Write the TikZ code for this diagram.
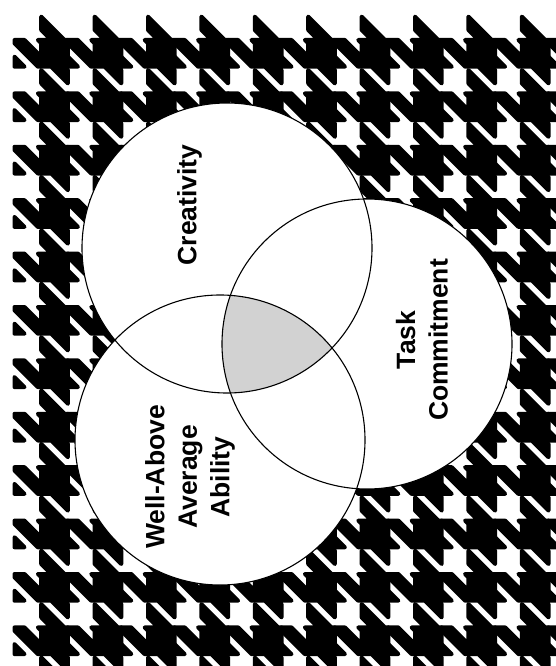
\documentclass[tikz,border=0pt]{standalone}
\usepackage{fontspec}
\setmainfont{Liberation Sans}
\begin{document}
\begin{tikzpicture}[x=1pt,y=-1pt,
  ring/.style={draw=black, line width=1.1pt},
  tooth/.style={fill=black, draw=black, line width=4pt, line join=round},
  lbl/.style={font=\bfseries\fontsize{26.5}{32.5}\selectfont, rotate=90, align=center, inner sep=0pt}]
\useasboundingbox (0,0) rectangle (556,666);
\fill[white] (0,0) rectangle (556,666);
% houndstooth background
\begin{scope}
\clip (0,0) rectangle (556,666);
\foreach \i in {0,...,10}{
 \foreach \j in {0,...,12}{
  \begin{scope}[shift={({14.5+53.4*\i},{40+53.4*\j})}, x=6.675pt, y=-6.675pt]
   \path[tooth] (4,0) rectangle (8,4)
     (0,0)--(1.5,0)--(4,2.5)--(4,4)--(3.5,4)--(0,0.5)--cycle
     (3.5,0)--(4,0)--(4,0.5)--cycle
     (0,2.5)--(0,4)--(1.5,4)--cycle
     (5.5,4)--(7.5,4)--(8,4.5)--(8,6.5)--cycle
     (4,-3.5)--(7.5,0)--(5.5,0)--(4,-1.5)--cycle;
  \end{scope}
 }}
\end{scope}
% rings
\coordinate (c1) at (227,248);
\coordinate (c2) at (367,344);
\coordinate (c3) at (220,440);
\fill[white] (c1) circle (145pt) (c2) circle (145pt) (c3) circle (145pt);
\begin{scope}
\clip (c1) circle (145pt);
\clip (c2) circle (145pt);
\fill[gray!35] (c3) circle (145pt);
\end{scope}
\draw[ring] (c1) circle (145pt);
\draw[ring] (c2) circle (145pt);
\draw[ring] (c3) circle (145pt);
% labels
\node[lbl] (creat) at (189.5,205) {Creativity};
\node[lbl] (task) at (422,340) {Task\\Commitment};
\node[lbl] (abil) at (190,477) {Well-Above\\Average\\Ability};
\end{tikzpicture}
\end{document}
